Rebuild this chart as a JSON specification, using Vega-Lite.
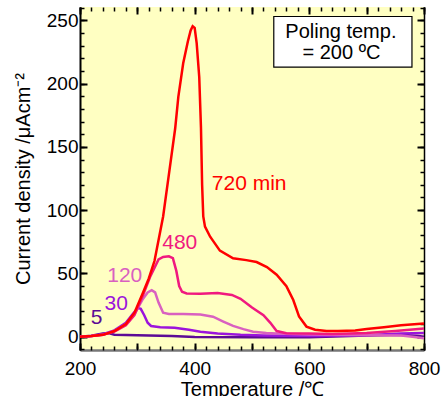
{
 "$schema": "https://vega.github.io/schema/vega-lite/v6.json",
 "width": 344, "height": 343,
 "autosize": {"type": "none"},
 "padding": {"left": 80, "top": 7, "right": 18, "bottom": 46},
 "config": {
  "view": {"fill": "#ffffc2", "stroke": null},
  "font": "Liberation Sans",
  "axis": {"grid": false, "labelFont": "Liberation Sans", "labelFontSize": 19, "labelColor": "#000", "titleFont": "Liberation Sans", "titleFontSize": 20, "titleFontWeight": "normal", "titleColor": "#000", "tickColor": "#000", "domainColor": "#000"}
 },
 "resolve": {"axis": {"x": "independent", "y": "independent"}},
 "layer": [
  {
   "data": {"values": [
    {"s":"5","x":200,"y":0},{"s":"5","x":220,"y":0.8},{"s":"5","x":240,"y":2.5},{"s":"5","x":250,"y":2.8},{"s":"5","x":260,"y":1.5},{"s":"5","x":280,"y":1.3},{"s":"5","x":320,"y":1.0},{"s":"5","x":360,"y":0.5},{"s":"5","x":400,"y":-0.3},{"s":"5","x":500,"y":-0.5},{"s":"5","x":600,"y":-0.5},{"s":"5","x":700,"y":1},{"s":"5","x":760,"y":1.5},{"s":"5","x":790,"y":0.5},{"s":"5","x":800,"y":0},
    {"s":"30","x":200,"y":0},{"s":"30","x":220,"y":0.5},{"s":"30","x":240,"y":2},{"s":"30","x":260,"y":5},{"s":"30","x":280,"y":11},{"s":"30","x":292,"y":18},{"s":"30","x":301,"y":22.8},{"s":"30","x":306,"y":22},{"s":"30","x":312,"y":17},{"s":"30","x":318,"y":11},{"s":"30","x":324,"y":8.5},{"s":"30","x":340,"y":7.5},{"s":"30","x":365,"y":7},{"s":"30","x":390,"y":5.5},{"s":"30","x":410,"y":4},{"s":"30","x":440,"y":2.5},{"s":"30","x":480,"y":1.5},{"s":"30","x":520,"y":1.0},{"s":"30","x":560,"y":0.8},{"s":"30","x":620,"y":0.5},{"s":"30","x":700,"y":1.2},{"s":"30","x":760,"y":2.5},{"s":"30","x":800,"y":3},
    {"s":"120","x":200,"y":0},{"s":"120","x":220,"y":0.5},{"s":"120","x":240,"y":1.5},{"s":"120","x":260,"y":4.5},{"s":"120","x":280,"y":10},{"s":"120","x":295,"y":18},{"s":"120","x":310,"y":30},{"s":"120","x":318,"y":35},{"s":"120","x":325,"y":36.8},{"s":"120","x":331,"y":35},{"s":"120","x":337,"y":27},{"s":"120","x":345,"y":19},{"s":"120","x":355,"y":18},{"s":"120","x":380,"y":18},{"s":"120","x":410,"y":17.5},{"s":"120","x":432,"y":15.8},{"s":"120","x":450,"y":12},{"s":"120","x":467,"y":8.5},{"s":"120","x":485,"y":6},{"s":"120","x":502,"y":4},{"s":"120","x":525,"y":3},{"s":"120","x":543,"y":2.6},{"s":"120","x":600,"y":1.8},{"s":"120","x":700,"y":1.2},{"s":"120","x":760,"y":1.0},{"s":"120","x":780,"y":0},{"s":"120","x":800,"y":-1.2},
    {"s":"480","x":200,"y":0},{"s":"480","x":220,"y":0.5},{"s":"480","x":240,"y":1.5},{"s":"480","x":260,"y":4},{"s":"480","x":280,"y":9},{"s":"480","x":295,"y":17},{"s":"480","x":310,"y":33},{"s":"480","x":322,"y":47},{"s":"480","x":337,"y":61},{"s":"480","x":345,"y":63},{"s":"480","x":355,"y":63.5},{"s":"480","x":362,"y":62},{"s":"480","x":368,"y":52},{"s":"480","x":373,"y":40},{"s":"480","x":378,"y":35.5},{"s":"480","x":386,"y":34.2},{"s":"480","x":410,"y":34},{"s":"480","x":440,"y":34.5},{"s":"480","x":465,"y":33},{"s":"480","x":480,"y":30},{"s":"480","x":500,"y":23},{"s":"480","x":520,"y":17},{"s":"480","x":532,"y":11},{"s":"480","x":543,"y":4.5},{"s":"480","x":560,"y":2.8},{"s":"480","x":600,"y":2.5},{"s":"480","x":640,"y":2.2},{"s":"480","x":700,"y":3},{"s":"480","x":750,"y":4.5},{"s":"480","x":800,"y":6.5},
    {"s":"720","x":200,"y":0},{"s":"720","x":220,"y":0.5},{"s":"720","x":240,"y":1.5},{"s":"720","x":260,"y":4.5},{"s":"720","x":280,"y":10},{"s":"720","x":295,"y":19},{"s":"720","x":310,"y":35},{"s":"720","x":320,"y":46},{"s":"720","x":330,"y":60},{"s":"720","x":345,"y":95},{"s":"720","x":355,"y":128},{"s":"720","x":366,"y":164.5},{"s":"720","x":371.5,"y":189.5},{"s":"720","x":380,"y":216},{"s":"720","x":388,"y":233},{"s":"720","x":393,"y":242},{"s":"720","x":396.5,"y":245.3},{"s":"720","x":400,"y":244},{"s":"720","x":403.5,"y":232},{"s":"720","x":408,"y":205},{"s":"720","x":411,"y":165},{"s":"720","x":413,"y":120},{"s":"720","x":415,"y":95},{"s":"720","x":418,"y":87},{"s":"720","x":427,"y":79},{"s":"720","x":444,"y":68},{"s":"720","x":467,"y":62},{"s":"720","x":490,"y":60.5},{"s":"720","x":508,"y":59},{"s":"720","x":526,"y":55},{"s":"720","x":543,"y":49},{"s":"720","x":560,"y":40},{"s":"720","x":572,"y":29},{"s":"720","x":582,"y":16},{"s":"720","x":595,"y":8},{"s":"720","x":610,"y":5.5},{"s":"720","x":630,"y":4.5},{"s":"720","x":650,"y":4.5},{"s":"720","x":680,"y":5},{"s":"720","x":700,"y":6},{"s":"720","x":730,"y":7.5},{"s":"720","x":760,"y":9},{"s":"720","x":800,"y":10.5}
   ]},
   "mark": {"type": "line", "strokeWidth": 2.5},
   "encoding": {
    "x": {"field": "x", "type": "quantitative", "scale": {"domain": [200, 800], "nice": false, "zero": false},
     "axis": {"orient": "bottom", "values": [200,300,400,500,600,700,800], "labelExpr": "datum.value % 200 == 0 ? datum.label : ''", "tickSize": -7, "tickWidth": 2, "domainWidth": 2.5, "domainColor": "#777", "labelPadding": 16, "labelFlush": false, "title": "Temperature /℃", "titlePadding": 1}},
    "y": {"field": "y", "type": "quantitative", "scale": {"domain": [-10.5, 260.5], "nice": false, "zero": false},
     "axis": {"orient": "left", "values": [0,50,100,150,200,250], "tickSize": -7, "tickWidth": 2, "domainWidth": 2, "labelPadding": 9, "title": "Current density /μAcm⁻²", "titlePadding": 13}},
    "color": {"field": "s", "type": "nominal", "scale": {"domain": ["5","30","120","480","720"], "range": ["#5c0a96","#9b14dc","#d960c0","#f0197f","#ff0000"]}, "legend": null}
   }
  },
  {
   "data": {"values": [
    {"s":"720","x":495,"y":121,"label":"720 min"},
    {"s":"480","x":374,"y":74,"label":"480"},
    {"s":"120","x":278,"y":48,"label":"120"},
    {"s":"30","x":263,"y":26,"label":"30"},
    {"s":"5","x":229,"y":14.5,"label":"5"}
   ]},
   "mark": {"type": "text", "fontSize": 21, "font": "Liberation Sans", "align": "center", "baseline": "middle"},
   "encoding": {
    "x": {"field": "x", "type": "quantitative", "scale": {"domain": [200, 800], "nice": false, "zero": false},
     "axis": {"orient": "bottom", "values": [200,220,240,260,280,300,320,340,360,380,400,420,440,460,480,500,520,540,560,580,600,620,640,660,680,700,720,740,760,780,800], "tickSize": -4, "tickWidth": 1.5, "labels": false, "domain": false, "title": null}},
    "y": {"field": "y", "type": "quantitative", "scale": {"domain": [-10.5, 260.5], "nice": false, "zero": false},
     "axis": {"orient": "left", "values": [-10,0,10,20,30,40,50,60,70,80,90,100,110,120,130,140,150,160,170,180,190,200,210,220,230,240,250,260], "tickSize": -4, "tickWidth": 1.5, "labels": false, "domain": false, "title": null}},
    "text": {"field": "label", "type": "nominal"},
    "color": {"field": "s", "type": "nominal", "scale": {"domain": ["5","30","120","480","720"], "range": ["#5c0a96","#9b14dc","#d960c0","#f0197f","#ff0000"]}, "legend": null}
   }
  },
  {
   "data": {"values": [{"x": 538, "x2": 779, "y": 213, "y2": 253}]},
   "mark": {"type": "rect", "fill": "#ffffff", "stroke": "#000000", "strokeWidth": 1.2},
   "encoding": {
    "x": {"field": "x", "type": "quantitative", "scale": {"domain": [200, 800], "nice": false, "zero": false},
     "axis": {"orient": "top", "values": [200,300,400,500,600,700,800], "tickSize": -7, "tickWidth": 2, "labels": false, "domain": false, "title": null}},
    "x2": {"field": "x2"},
    "y": {"field": "y", "type": "quantitative", "scale": {"domain": [-10.5, 260.5], "nice": false, "zero": false},
     "axis": {"orient": "right", "values": [0,50,100,150,200,250], "tickSize": -7, "tickWidth": 2, "labels": false, "domain": true, "domainWidth": 1.5, "title": null}},
    "y2": {"field": "y2"}
   }
  },
  {
   "data": {"values": [{"x": 655, "y": 241, "label": "Poling temp."}, {"x": 656, "y": 224, "label": "= 200 ºC"}]},
   "mark": {"type": "text", "fontSize": 20, "align": "center", "baseline": "middle", "color": "#000"},
   "encoding": {
    "x": {"field": "x", "type": "quantitative", "scale": {"domain": [200, 800], "nice": false, "zero": false},
     "axis": {"orient": "top", "values": [200,220,240,260,280,300,320,340,360,380,400,420,440,460,480,500,520,540,560,580,600,620,640,660,680,700,720,740,760,780,800], "tickSize": -4, "tickWidth": 1.5, "labels": false, "domain": false, "title": null}},
    "y": {"field": "y", "type": "quantitative", "scale": {"domain": [-10.5, 260.5], "nice": false, "zero": false},
     "axis": {"orient": "right", "values": [-10,0,10,20,30,40,50,60,70,80,90,100,110,120,130,140,150,160,170,180,190,200,210,220,230,240,250,260], "tickSize": -4, "tickWidth": 1.5, "labels": false, "domain": false, "title": null}},
    "text": {"field": "label", "type": "nominal"}
   }
  }
 ]
}
